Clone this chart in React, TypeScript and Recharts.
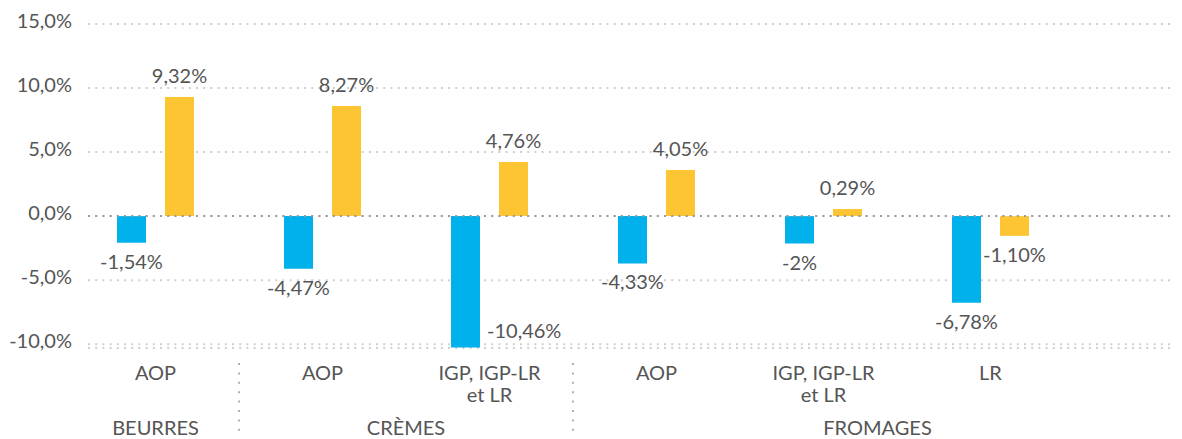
import React from "react";
import { BarChart, Bar, XAxis, YAxis, CartesianGrid, ReferenceLine, LabelList } from "recharts";

const categories = ["AOP", "AOP", "IGP, IGP-LR\net LR", "AOP", "IGP, IGP-LR\net LR", "LR"];
const groups = ["BEURRES", "CRÈMES", "CRÈMES", "FROMAGES", "FROMAGES", "FROMAGES"];
const blueValues = [-2.08, -4.11, -10.26, -3.7, -2.14, -6.77];
const yellowValues = [9.3, 8.59, 4.22, 3.59, 0.55, -1.54];
const blueLabels = ["-1,54%", "-4,47%", "-10,46%", "-4,33%", "-2%", "-6,78%"];
const yellowLabels = ["9,32%", "8,27%", "4,76%", "4,05%", "0,29%", "-1,10%"];
const yTicks = [-10, -5, 0, 5, 10, 15];

const data = categories.map((c, i) => ({ name: c, group: groups[i], blue: blueValues[i], yellow: yellowValues[i] }));

const W = 1174;
const H = 431;
const MARGIN = { top: 16, right: 0, bottom: 0, left: 0 };
const Y_W = 64;
const X_H = 91;
const PAD_R = 108;
const PLOT_LEFT = MARGIN.left + Y_W;
const PLOT_RIGHT = W - MARGIN.right;
const PLOT_BOTTOM = H - MARGIN.bottom - X_H;
const BW = (PLOT_RIGHT - PLOT_LEFT - PAD_R) / categories.length;

const FONT = "Lato, 'Noto Sans', sans-serif";
const TXT = "#555555";
const BLUE = "#00B1EB";
const YELLOW = "#FEC532";

const fmtY = (v: number) => v.toFixed(1).replace(".", ",") + "%";

function YTick(props: any) {
  const { x, y, payload } = props;
  return (
    <text x={x} y={y - 3.5} dy="0.355em" textAnchor="end" fill={TXT} fontSize={20} fontFamily={FONT}>
      {fmtY(payload.value)}
    </text>
  );
}

function XTick(props: any) {
  const { x, y, index } = props;
  const lines = categories[index].split("\n");
  const isGroupStart = index === 0 || groups[index] !== groups[index - 1];
  let groupEls: React.ReactNode = null;
  if (isGroupStart) {
    const sx = x - BW / 2;
    let j = index + 1;
    while (j < groups.length && groups[j] === groups[index]) j++;
    const ex = j < groups.length ? x + (j - index) * BW - BW / 2 : PLOT_RIGHT;
    groupEls = (
      <g>
        {index > 0 && (
          <line x1={sx} x2={sx} y1={y + 15} y2={y + 84} stroke="#b0b0b0" strokeWidth={2} strokeDasharray="2 7.4" />
        )}
        <text x={(sx + ex) / 2} y={y + 87} textAnchor="middle" fill={TXT} fontSize={20} fontFamily={FONT}>
          {groups[index]}
        </text>
      </g>
    );
  }
  return (
    <g>
      {lines.map((l, k) => (
        <text key={k} x={x} y={y + 32 + k * 22} textAnchor="middle" fill={TXT} fontSize={20} fontFamily={FONT}>
          {l}
        </text>
      ))}
      {groupEls}
    </g>
  );
}

function makeLabel(labels: string[]) {
  return (props: any) => {
    const { x, y, width, height, index, value } = props;
    const top = Math.min(y, y + height);
    const bottom = Math.max(y, y + height);
    const cx = x + width / 2;
    const txt = labels[index];
    if (value >= 0) {
      return (
        <text x={cx} y={top - 14} textAnchor="middle" fill={TXT} fontSize={20} fontFamily={FONT}>
          {txt}
        </text>
      );
    }
    if (bottom + 26 > PLOT_BOTTOM) {
      return (
        <text x={x + width + 7} y={bottom - 9} textAnchor="start" fill={TXT} fontSize={20} fontFamily={FONT}>
          {txt}
        </text>
      );
    }
    return (
      <text x={cx} y={bottom + 26} textAnchor="middle" fill={TXT} fontSize={20} fontFamily={FONT}>
        {txt}
      </text>
    );
  };
}

const gridLine = (props: any) => (
  <line
    key={props.key ?? props.index}
    x1={props.x1 + 16}
    x2={props.x2}
    y1={props.y1}
    y2={props.y2}
    stroke="#cfcfcf"
    strokeWidth={2}
    strokeDasharray="2 5.2"
  />
);

const zeroLine = (props: any) => (
  <line x1={props.x1 + 16} x2={props.x2} y1={props.y1} y2={props.y2} stroke="#9a9a9a" strokeWidth={2} strokeDasharray="2 5.2" />
);

export default function App() {
  return (
    <div style={{ width: W, height: H }}>
      <BarChart width={W} height={H} data={data} margin={MARGIN} barSize={29} barGap={19}>
        <CartesianGrid vertical={false} horizontal={gridLine} />
        <XAxis
          dataKey="name"
          interval={0}
          axisLine={false}
          tickLine={false}
          tickSize={0}
          tickMargin={0}
          height={X_H}
          padding={{ left: 0, right: PAD_R }}
          tick={<XTick />}
        />
        <YAxis
          width={Y_W}
          domain={[-10.3, 15]}
          ticks={yTicks}
          axisLine={false}
          tickLine={false}
          tickSize={0}
          tickMargin={0}
          tick={<YTick />}
        />
        <ReferenceLine y={0} shape={zeroLine} />
        <Bar dataKey="blue" fill={BLUE} isAnimationActive={false}>
          <LabelList dataKey="blue" content={makeLabel(blueLabels)} />
        </Bar>
        <Bar dataKey="yellow" fill={YELLOW} isAnimationActive={false}>
          <LabelList dataKey="yellow" content={makeLabel(yellowLabels)} />
        </Bar>
      </BarChart>
    </div>
  );
}
